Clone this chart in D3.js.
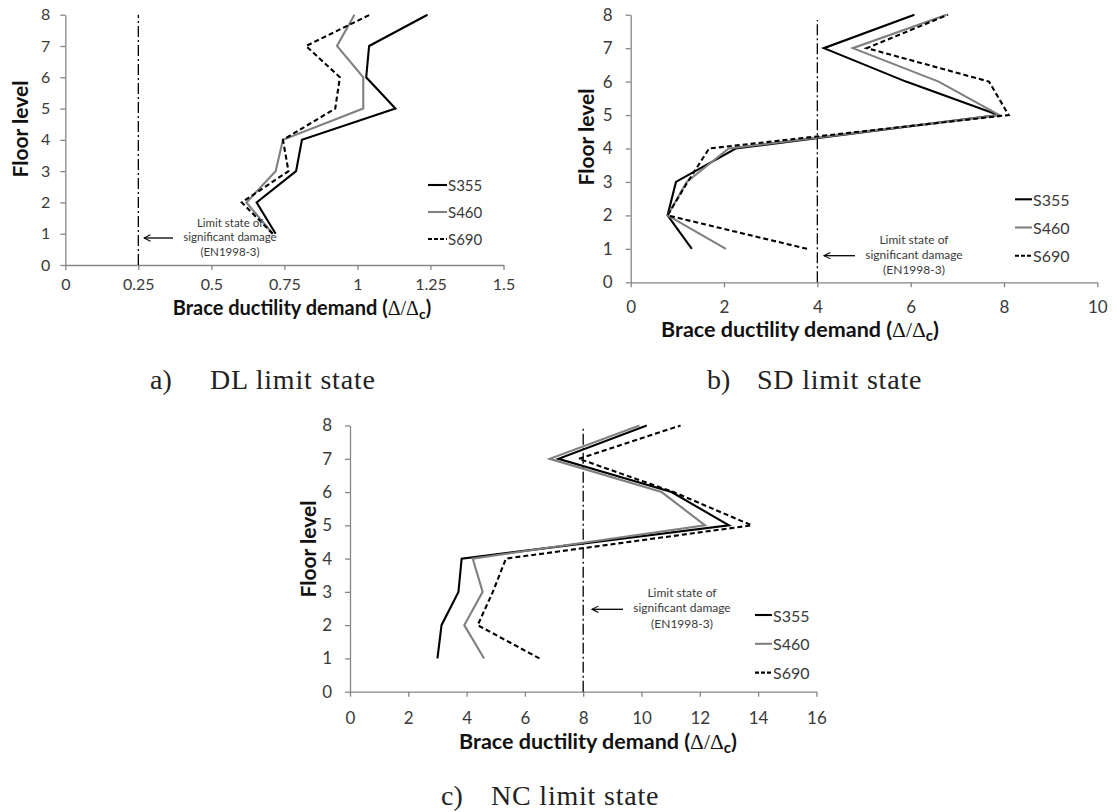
<!DOCTYPE html>
<html><head><meta charset="utf-8">
<script src="https://cdn.jsdelivr.net/npm/d3@7"></script>
<style>body{margin:0;background:#fff}svg{display:block}</style>
</head><body><svg id="chart" width="1117" height="812"></svg>
<script>
// ---------- data ----------
const floors = [1, 2, 3, 4, 5, 6, 7, 8];
const floorTicks = [0, 1, 2, 3, 4, 5, 6, 7, 8];
const seriesNames = ["S355", "S460", "S690"];

const dlS355 = [0.72, 0.655, 0.79, 0.81, 1.13, 1.03, 1.04, 1.24];
const dlS460 = [0.71, 0.62, 0.72, 0.745, 1.02, 1.02, 0.93, 0.99];
const dlS690 = [0.71, 0.604, 0.764, 0.745, 0.924, 0.94, 0.824, 1.043];

const sdS355 = [1.31, 0.79, 0.97, 2.25, 7.88, 5.9, 4.14, 6.08];
const sdS460 = [2.04, 0.79, 1.2, 2.1, 7.9, 6.6, 4.76, 6.77];
const sdS690 = [3.78, 0.79, 1.22, 1.68, 8.1, 7.68, 5.06, 6.8];

const ncS355 = [3.0, 3.14, 3.72, 3.83, 13.0, 11.03, 7.15, 10.18];
const ncS460 = [4.6, 3.92, 4.55, 4.21, 12.18, 10.69, 6.85, 9.93];
const ncS690 = [6.5, 4.38, 4.9, 5.35, 13.78, 11.1, 7.85, 11.34];

const dlTicks = [0, 0.25, 0.5, 0.75, 1, 1.25, 1.5];
const sdTicks = [0, 2, 4, 6, 8, 10];
const ncTicks = [0, 2, 4, 6, 8, 10, 12, 14, 16];

const dlLimit = 0.25, sdLimit = 4, ncLimit = 8;
const dlLimitTop = 8, sdLimitTop = 7.84, ncLimitTop = 7.95;
const limitNote = ["Limit state of", "significant damage", "(EN1998-3)"];
const axisTitleY = "Floor level";
const captionLetters = ["a)", "b)", "c)"];
const captionTexts = ["DL limit state", "SD limit state", "NC limit state"];

// ---------- drawing ----------
const svg = d3.select("#chart");
const SANS = "Lato, 'Open Sans', sans-serif";
const SERIF = "'Liberation Serif', serif";
const AX = "#868686", TXT = "#3a3a3a";
const styles = [
  {stroke: "#000", width: 2.1, dash: null},
  {stroke: "#808080", width: 2.1, dash: null},
  {stroke: "#000", width: 2.1, dash: "5,3"}
];

const defs = svg.append("defs");
defs.append("marker").attr("id", "arr").attr("viewBox", "0 0 10 10")
  .attr("refX", 9).attr("refY", 5).attr("markerWidth", 8).attr("markerHeight", 8)
  .attr("orient", "auto").attr("markerUnits", "userSpaceOnUse")
  .append("path").attr("d", "M1,1 L9,5 L1,9").attr("fill", "none").attr("stroke", "#000").attr("stroke-width", 1.3);

function panel(o) {
  const x = d3.scaleLinear().domain([0, o.xmax]).range([o.x0, o.x1]);
  const y = d3.scaleLinear().domain([0, 8]).range([o.y0, o.y1]);
  const g = svg.append("g");

  const xa = g.append("g").attr("transform", `translate(0,${o.y0})`)
    .call(d3.axisBottom(x).tickValues(o.ticks).tickSize(5).tickSizeOuter(0).tickPadding(o.xpad)
      .tickFormat(d => String(d)));
  const ya = g.append("g").attr("transform", `translate(${o.x0},0)`)
    .call(d3.axisLeft(y).tickValues(floorTicks).tickSize(5).tickSizeOuter(0).tickPadding(o.ypad)
      .tickFormat(d => String(d)));
  [xa, ya].forEach(a => {
    a.select(".domain").attr("stroke", AX).attr("stroke-width", 1.3);
    a.selectAll(".tick line").attr("stroke", AX).attr("stroke-width", 1.3);
    a.selectAll(".tick text").attr("fill", TXT).style("font-family", SANS).style("font-size", o.fs + "px");
  });

  // limit line
  g.append("line").attr("x1", x(o.limit)).attr("x2", x(o.limit))
    .attr("y1", y(0)).attr("y2", y(o.limitTop))
    .attr("stroke", "#000").attr("stroke-width", 1.3).attr("stroke-dasharray", "11,3,2,3");

  // series
  const line = d3.line().x(d => x(d[0])).y(d => y(d[1]));
  o.series.forEach((s, i) => {
    g.append("path").datum(s.map((v, k) => [v, floors[k]]))
      .attr("d", line).attr("fill", "none")
      .attr("stroke", styles[i].stroke).attr("stroke-width", styles[i].width)
      .attr("stroke-dasharray", styles[i].dash).attr("stroke-linejoin", "miter");
  });

  // annotation
  limitNote.forEach((t, i) => {
    g.append("text").attr("x", o.note.x).attr("y", o.note.y + i * o.note.dy)
      .attr("text-anchor", "middle").attr("dominant-baseline", "central")
      .style("font-family", SANS).style("font-size", o.note.fs + "px").attr("fill", TXT).text(t);
  });
  g.append("line").attr("x1", o.arrow.x1).attr("x2", o.arrow.x2)
    .attr("y1", o.arrow.y).attr("y2", o.arrow.y)
    .attr("stroke", "#000").attr("stroke-width", 1.3).attr("marker-end", "url(#arr)");

  // legend
  seriesNames.forEach((n, i) => {
    const ly = o.leg.y + i * o.leg.dy;
    g.append("line").attr("x1", o.leg.x).attr("x2", o.leg.x + o.leg.len)
      .attr("y1", ly).attr("y2", ly)
      .attr("stroke", styles[i].stroke).attr("stroke-width", styles[i].width)
      .attr("stroke-dasharray", styles[i].dash ? "4,2" : null);
    g.append("text").attr("x", o.leg.x + o.leg.len + 1).attr("y", ly)
      .attr("dominant-baseline", "central").style("font-family", SANS)
      .style("font-size", o.leg.fs + "px").attr("fill", TXT).text(n);
  });

  // axis titles
  g.append("text").attr("transform", `translate(${o.yt.x},${o.yt.y}) rotate(-90)`)
    .attr("text-anchor", "middle").attr("dominant-baseline", "central")
    .style("font-family", SANS).style("font-weight", "bold").style("font-size", o.ytfs + "px")
    .attr("fill", "#111").text(axisTitleY);

  const xt = g.append("text").attr("x", o.xt.x).attr("y", o.xt.y)
    .attr("text-anchor", "middle").style("font-family", SANS).style("font-weight", "bold")
    .style("font-size", o.tfs + "px").attr("fill", "#111");
  xt.append("tspan").text("Brace ductility demand (");
  xt.append("tspan").style("font-family", SERIF).style("font-weight", "normal").text("Δ/Δ");
  xt.append("tspan").attr("dy", 4).style("font-size", (o.tfs * 0.7) + "px").text("c");
  xt.append("tspan").attr("dy", -4).text(")");

  // caption
  g.append("text").attr("x", o.cap.x).attr("y", o.cap.y)
    .style("font-family", SERIF).style("font-size", o.cap.fs + "px")
    .attr("fill", "#222").text(o.cap.letter);
  g.append("text").attr("x", o.cap.x2).attr("y", o.cap.y)
    .style("font-family", SERIF).style("font-size", o.cap.fs + "px").style("letter-spacing", "0.8px")
    .attr("fill", "#222").text(o.cap.text);
}

panel({
  xmax: 1.5, x0: 65.3, x1: 503.5, y0: 265, y1: 14.7, ticks: dlTicks, fs: 16, xpad: 9, ypad: 10,
  limit: dlLimit, limitTop: dlLimitTop, series: [dlS355, dlS460, dlS690],
  note: {x: 230, y: 222, dy: 14.5, fs: 11.5}, arrow: {x1: 173, x2: 144, y: 238},
  leg: {x: 428, y: 185, dy: 27, len: 19, fs: 15},
  yt: {x: 19, y: 129}, xt: {x: 302, y: 315}, tfs: 20, ytfs: 21,
  cap: {x: 150, x2: 210, y: 389, fs: 28, letter: captionLetters[0], text: captionTexts[0]}
});
panel({
  xmax: 10, x0: 630.7, x1: 1097.3, y0: 282.3, y1: 14.7, ticks: sdTicks, fs: 17, xpad: 14, ypad: 13,
  limit: sdLimit, limitTop: sdLimitTop, series: [sdS355, sdS460, sdS690],
  note: {x: 914, y: 239, dy: 15, fs: 12}, arrow: {x1: 855, x2: 824, y: 255.7},
  leg: {x: 1015, y: 199.3, dy: 28.2, len: 17, fs: 16},
  yt: {x: 585, y: 137}, xt: {x: 800, y: 337}, tfs: 21.5, ytfs: 21,
  cap: {x: 707, x2: 757, y: 389, fs: 28, letter: captionLetters[1], text: captionTexts[1]}
});
panel({
  xmax: 16, x0: 350, x1: 816.4, y0: 691.7, y1: 425.5, ticks: ncTicks, fs: 17, xpad: 15, ypad: 13,
  limit: ncLimit, limitTop: ncLimitTop, series: [ncS355, ncS460, ncS690],
  note: {x: 682, y: 592.3, dy: 15.5, fs: 12}, arrow: {x1: 623, x2: 592, y: 609.3},
  leg: {x: 755, y: 615, dy: 28.8, len: 17, fs: 16},
  yt: {x: 307, y: 549}, xt: {x: 598, y: 749}, tfs: 21.5, ytfs: 21,
  cap: {x: 441, x2: 491, y: 805, fs: 28, letter: captionLetters[2], text: captionTexts[2]}
});
</script></body></html>
